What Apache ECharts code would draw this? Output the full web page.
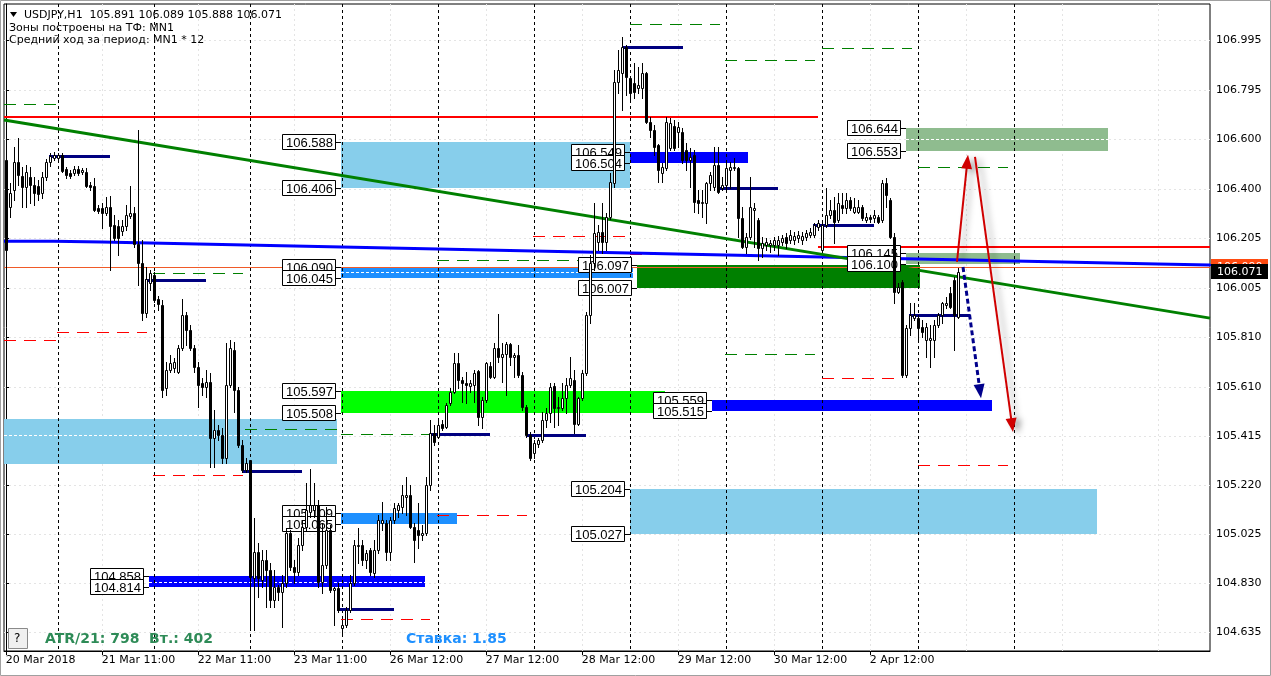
<!DOCTYPE html>
<html><head><meta charset="utf-8">
<script src="https://cdn.jsdelivr.net/npm/echarts@6/dist/echarts.min.js"></script>
<style>html,body{margin:0;padding:0;background:#fff}#c{width:1271px;height:676px}</style>
</head><body><div id="c"></div>
<script>
// ---------- DATA ----------
const opens = [
106.517,106.329,106.397,106.509,106.453,106.409,106.449,106.417,106.413,106.385,
106.449,106.509,106.525,106.525,106.537,106.481,106.465,106.465,106.481,106.469,
106.469,106.417,106.413,106.325,106.325,106.305,106.329,106.257,106.253,106.233,
106.253,106.293,106.305,106.182,106.106,105.906,106.026,106.058,105.962,105.938,
105.607,105.679,105.687,105.671,105.767,105.898,105.838,105.767,105.691,105.627,
105.611,105.631,105.408,105.440,105.420,105.328,105.619,105.759,105.599,105.380,
105.280,105.320,104.850,104.953,104.842,104.921,104.882,104.762,104.814,104.794,
104.830,105.029,104.893,104.874,104.981,105.053,105.113,105.121,105.141,104.834,
104.901,105.041,104.802,104.810,104.650,104.662,104.722,104.830,104.977,104.981,
104.921,104.961,104.870,104.961,105.069,105.069,104.953,105.081,105.121,105.133,
105.173,105.181,105.053,105.041,105.021,105.029,105.220,105.428,105.412,105.464,
105.452,105.547,105.591,105.707,105.639,105.627,105.615,105.619,105.675,105.492,
105.559,105.695,105.651,105.767,105.731,105.743,105.783,105.731,105.739,105.659,
105.531,105.420,105.348,105.384,105.400,105.480,105.508,105.615,105.527,105.527,
105.567,105.619,105.639,105.464,105.567,105.667,105.898,106.106,106.190,106.229,
106.190,106.289,106.425,106.828,106.863,106.967,106.843,106.824,106.804,106.804,
106.863,106.668,106.636,106.576,106.465,106.485,106.564,106.652,106.628,106.628,
106.556,106.517,106.537,106.357,106.345,106.345,106.425,106.409,106.497,106.405,
106.417,106.477,106.485,106.485,106.285,106.170,106.210,106.317,106.277,106.166,
106.178,106.178,106.178,106.178,106.190,106.210,106.198,106.198,106.206,106.198,
106.210,106.218,106.218,106.249,106.158,106.257,106.297,106.317,106.277,106.337,
106.325,106.357,106.309,106.309,106.329,106.277,106.289,106.285,106.289,106.277,
106.425,106.357,106.210,105.990,106.030,105.659,105.846,105.886,105.886,105.850,
105.799,105.799,105.799,105.858,105.898,105.938,105.986,106.038,105.890];
const closes = [
106.158,106.385,106.509,106.457,106.409,106.469,106.417,106.385,106.381,106.449,
106.509,106.533,106.537,106.537,106.473,106.457,106.453,106.481,106.465,106.477,
106.413,106.409,106.317,106.313,106.305,106.329,106.253,106.206,106.206,106.253,
106.297,106.305,106.182,106.106,105.906,106.042,106.066,105.958,105.942,105.599,
105.679,105.707,105.711,105.767,105.898,105.838,105.767,105.691,105.619,105.611,
105.631,105.408,105.440,105.420,105.328,105.619,105.767,105.599,105.380,105.280,
105.308,104.854,104.953,104.850,104.921,104.882,104.762,104.814,104.794,104.830,
105.029,104.893,104.874,104.981,105.053,105.121,105.141,105.141,104.834,104.901,
105.041,104.802,104.810,104.722,104.662,104.722,104.830,104.981,104.981,104.921,
104.949,104.874,104.961,105.081,105.081,104.953,105.081,105.129,105.141,105.181,
105.181,105.053,105.001,105.021,105.029,105.220,105.428,105.392,105.460,105.448,
105.539,105.591,105.707,105.639,105.627,105.619,105.627,105.667,105.492,105.559,
105.707,105.651,105.767,105.731,105.743,105.783,105.731,105.739,105.659,105.531,
105.420,105.328,105.388,105.400,105.480,105.508,105.611,105.527,105.531,105.567,
105.619,105.647,105.464,105.567,105.667,105.898,106.106,106.226,106.229,106.190,
106.289,106.429,106.828,106.875,106.967,106.847,106.784,106.788,106.816,106.863,
106.668,106.636,106.568,106.477,106.489,106.668,106.664,106.564,106.648,106.517,
106.517,106.529,106.349,106.345,106.349,106.425,106.457,106.497,106.389,106.417,
106.485,106.489,106.489,106.285,106.170,106.210,106.329,106.325,106.166,106.186,
106.190,106.186,106.198,106.198,106.206,106.186,106.218,106.214,106.218,106.214,
106.226,106.229,106.257,106.265,106.257,106.297,106.317,106.269,106.345,106.325,
106.357,106.325,106.329,106.329,106.285,106.289,106.281,106.297,106.269,106.425,
106.377,106.210,105.990,106.010,105.659,105.846,105.898,105.898,105.846,105.830,
105.850,105.807,105.858,105.898,105.946,105.946,105.930,105.898,106.071];
const highs = [
106.556,106.425,106.568,106.604,106.489,106.497,106.489,106.449,106.437,106.469,
106.521,106.544,106.548,106.544,106.544,106.489,106.477,106.493,106.493,106.485,
106.485,106.429,106.445,106.337,106.345,106.369,106.373,106.297,106.277,106.277,
106.337,106.413,106.329,106.636,106.198,106.090,106.078,106.070,105.974,105.958,
105.711,105.739,105.727,105.779,105.962,105.910,105.858,105.779,105.711,105.647,
105.679,105.667,105.520,105.460,105.448,105.787,105.799,105.791,105.611,105.400,
105.328,105.320,105.089,104.989,104.961,104.961,104.909,104.882,104.822,104.862,
105.049,105.041,104.921,105.009,105.081,105.228,105.284,105.228,105.161,105.069,
105.133,105.061,104.814,104.830,104.682,104.734,104.862,105.001,105.049,105.001,
104.961,104.969,105.001,105.101,105.153,105.081,105.093,105.149,105.149,105.220,
105.252,105.220,105.069,105.149,105.061,105.252,105.480,105.460,105.480,105.480,
105.547,105.607,105.747,105.747,105.651,105.671,105.639,105.679,105.679,105.571,
105.711,105.711,105.787,105.902,105.787,105.791,105.787,105.747,105.779,105.671,
105.539,105.432,105.400,105.408,105.512,105.527,105.627,105.627,105.571,105.627,
105.647,105.731,105.679,105.571,105.679,105.910,106.138,106.345,106.257,106.345,
106.305,106.465,106.875,106.955,107.007,106.975,106.847,106.903,106.887,106.903,
106.867,106.688,106.656,106.580,106.505,106.688,106.684,106.676,106.668,106.644,
106.584,106.564,106.556,106.397,106.397,106.429,106.469,106.568,106.568,106.449,
106.509,106.509,106.525,106.489,106.329,106.226,106.449,106.345,106.285,106.210,
106.206,106.198,106.210,106.214,106.218,106.226,106.237,106.229,106.233,106.229,
106.237,106.245,106.265,106.277,106.277,106.405,106.357,106.369,106.385,106.385,
106.385,106.369,106.365,106.357,106.337,106.305,106.297,106.317,106.297,106.437,
106.445,106.365,106.226,106.026,106.038,105.858,105.946,105.946,105.898,105.878,
105.866,105.858,105.878,105.906,105.950,105.970,106.010,106.050,106.086];
const lows = [
106.086,106.289,106.357,106.417,106.329,106.329,106.345,106.337,106.357,106.365,
106.437,106.493,106.517,106.509,106.469,106.445,106.445,106.457,106.457,106.461,
106.409,106.397,106.313,106.305,106.245,106.297,106.078,106.198,106.138,106.218,
106.237,106.285,106.170,106.018,105.878,105.890,105.998,105.950,105.918,105.571,
105.579,105.671,105.671,105.667,105.759,105.779,105.759,105.671,105.531,105.579,
105.571,105.292,105.292,105.400,105.308,105.308,105.611,105.512,105.372,105.272,
105.272,104.642,104.642,104.774,104.814,104.734,104.734,104.734,104.762,104.654,
104.814,104.882,104.830,104.862,104.961,105.041,105.093,105.093,104.814,104.790,
104.889,104.794,104.662,104.714,104.622,104.654,104.714,104.822,104.909,104.901,
104.889,104.862,104.854,104.949,105.041,104.921,104.921,105.069,105.093,105.109,
105.101,105.049,104.913,104.969,105.001,105.021,105.200,105.380,105.408,105.440,
105.448,105.539,105.587,105.607,105.551,105.547,105.591,105.551,105.460,105.448,
105.551,105.647,105.647,105.711,105.631,105.579,105.699,105.651,105.651,105.520,
105.412,105.320,105.328,105.372,105.392,105.452,105.472,105.452,105.460,105.520,
105.508,105.611,105.428,105.460,105.559,105.659,105.866,106.078,106.158,106.146,
106.158,106.281,106.409,106.784,106.716,106.776,106.748,106.764,106.784,106.764,
106.664,106.608,106.537,106.429,106.429,106.477,106.556,106.556,106.568,106.505,
106.477,106.409,106.309,106.305,106.289,106.265,106.397,106.397,106.385,106.397,
106.397,106.405,106.477,106.210,106.166,106.146,106.202,106.170,106.118,106.130,
106.158,106.150,106.158,106.138,106.178,106.166,106.186,106.182,106.190,106.182,
106.198,106.210,106.210,106.237,106.150,106.249,106.285,106.186,106.269,106.305,
106.305,106.317,106.305,106.305,106.277,106.269,106.269,106.269,106.265,106.269,
106.329,106.206,105.946,105.986,105.651,105.651,105.818,105.878,105.799,105.811,
105.731,105.691,105.731,105.850,105.866,105.926,105.926,105.759,105.886];

const yTicks = [106.995,106.795,106.600,106.400,106.205,106.005,105.810,105.610,105.415,105.220,105.025,104.830,104.635];
const xTickBars = [0,24,48,72,96,120,144,168,192,216];
const xTickLabels = ['20 Mar 2018','21 Mar 11:00','22 Mar 11:00','23 Mar 11:00','26 Mar 12:00','27 Mar 12:00','28 Mar 12:00','29 Mar 12:00','30 Mar 12:00','2 Apr 12:00'];
const gridBars = [24,48,72,96,120,144,168,192,216,240,264,288];
const daySeparators = [13,37,61,84,108,132,156,180,204,228,252];

const maBars = [-0.45,12,24,36,48,60,72,84,96,108,120,132,144,156,168,180,192,204,216,228,240,252,264,276,288,301.05];
const maValues = [106.193,106.190,106.186,106.182,106.178,106.174,106.170,106.166,106.162,106.158,106.154,106.150,106.146,106.142,106.138,106.134,106.130,106.126,106.122,106.118,106.114,106.110,106.106,106.102,106.098,106.094];
const trendLine = [[-0.45,106.676],[301.05,105.886]];

const skyZones = [[83.8,156.05,106.588,106.406],[-0.45,82.8,105.485,105.305],[156.05,272.8,105.204,105.027]];
const dodgerZones = [[83.8,156.8,106.090,106.045],[83.8,112.8,105.109,105.065]];
const blueZones = [[35.8,104.8,104.858,104.814],[156.05,185.55,106.549,106.504],[176.55,246.55,105.559,105.515]];
const limeZones = [[83.8,164.8,105.597,105.508]];
const darkGreenZones = [[157.8,228.55,106.097,106.007]];
const sageZones = [[225.05,275.55,106.644,106.553],[225.05,253.55,106.145,106.100]];
const zoneMidLines = [[-0.45,82.8,105.420],[35.8,104.8,104.834],[83.8,156.8,106.070],[225.05,275.55,106.600]];

const labelBars = [83.8,83.8,83.8,83.8,83.8,83.8,35.8,35.8,83.8,83.8,156.05,156.05,157.8,157.8,176.55,176.55,156.05,156.05,225.05,225.05,225.05,225.05];
const labelPrices = [106.588,106.406,106.090,106.045,105.597,105.508,104.858,104.814,105.109,105.065,106.549,106.504,106.097,106.007,105.559,105.515,105.204,105.027,106.644,106.553,106.145,106.100];

const navyLevels = [[10.8,26.05,106.533],[34.8,50.05,106.038],[59.3,74.05,105.276],[82.8,97.05,104.726],[106.05,121.05,105.424],[130.05,145.05,105.420],[154.05,169.3,106.967],[178.05,193.05,106.405],[201.8,217.05,106.257],[225.8,241.05,105.898]];
const greenDashLevels = [[-0.45,12.8,106.740],[12.8,35.2,106.686],[36.8,59.3,106.066],[59.8,82.8,105.444],[83.8,106.05,105.424],[107.8,156.05,106.118],[156.05,178.6,107.059],[179.8,202.3,106.915],[204,226.5,106.963],[179.8,202.3,105.743],[228,250.6,106.489]];
const redDashLevels = [[-0.45,12.8,105.799],[12.8,35.2,105.831],[36.8,59.3,105.260],[83.8,106.05,104.686],[107.8,130.3,105.101],[131.8,154.8,106.214],[156.05,178.6,106.142],[204,223.6,105.647],[228,250.6,105.300]];
const redLevels = [[-0.45,203,106.688],[203,301.05,106.170]];
const askLevels = [[-0.45,301.05,106.090]];

const redArrows = [[237.8,106.110,240.55,106.537],[242.3,106.529,251.8,105.432]];
const navyArrows = [[239.3,106.090,243.8,105.567]];
const tagPrices = [106.090,106.071];
const tagColors = ['#ff4a10','#000000'];

// ---------- RENDER ----------
const X_MIN = -0.45, X_MAX = 301.05, Y_MIN = 104.5588, Y_MAX = 107.1385;
const chart = echarts.init(document.getElementById('c'), null, {renderer:'canvas'});

function crisp(v){ return Math.round(v) + 0.5; }
function segSeries(data, color, width, dash, z){
  return {type:'custom', coordinateSystem:'cartesian2d', z:z, clip:true, silent:true, data:data,
    renderItem:function(p, api){
      const a = api.coord([api.value(0), api.value(2)]), b = api.coord([api.value(1), api.value(2)]);
      const y = width % 2 ? crisp(a[1]) : Math.round(a[1]);
      return {type:'line', shape:{x1:Math.round(a[0]), y1:y, x2:Math.round(b[0]), y2:y},
        style:{stroke:color, lineWidth:width, lineDash:dash || null}};
    }};
}
function zoneSeries(data, color, z){
  return {type:'custom', coordinateSystem:'cartesian2d', z:z, clip:true, silent:true, data:data,
    renderItem:function(p, api){
      const a = api.coord([api.value(0), api.value(2)]), b = api.coord([api.value(1), api.value(3)]);
      const x0 = Math.round(a[0]), y0 = Math.round(a[1]);
      return {type:'rect', shape:{x:x0, y:y0, width:Math.round(b[0]) - x0, height:Math.round(b[1]) - y0}, style:{fill:color}};
    }};
}
function vLineSeries(bars, color, dash, z){
  return {type:'custom', coordinateSystem:'cartesian2d', z:z, clip:true, silent:true, data:bars.map(function(b){return [b, Y_MIN];}),
    renderItem:function(p, api){
      const cs = p.coordSys; const x = crisp(api.coord([api.value(0), Y_MIN])[0]);
      return {type:'line', shape:{x1:x, y1:cs.y, x2:x, y2:cs.y + cs.height}, style:{stroke:color, lineWidth:1, lineDash:dash}};
    }};
}
function hGridSeries(vals, color, dash, z){
  return {type:'custom', coordinateSystem:'cartesian2d', z:z, clip:true, silent:true, data:vals.map(function(v){return [X_MIN, v];}),
    renderItem:function(p, api){
      const cs = p.coordSys; const y = crisp(api.coord([X_MIN, api.value(1)])[1]);
      return {type:'line', shape:{x1:cs.x, y1:y, x2:cs.x + cs.width, y2:y}, style:{stroke:color, lineWidth:1, lineDash:dash}};
    }};
}
function arrowSeries(data, color, width, dash, z, shadow){
  return {type:'custom', coordinateSystem:'cartesian2d', z:z, clip:false, silent:true, data:data,
    renderItem:function(p, api){
      const a = api.coord([api.value(0), api.value(1)]), b = api.coord([api.value(2), api.value(3)]);
      const dx = b[0]-a[0], dy = b[1]-a[1], len = Math.hypot(dx, dy), ux = dx/len, uy = dy/len;
      const hl = 14, hw = 5.5;
      const bx = b[0]-ux*hl, by = b[1]-uy*hl;
      const sh = shadow ? {shadowColor:'rgba(0,0,0,0.35)', shadowBlur:6, shadowOffsetX:5, shadowOffsetY:2} : {};
      return {type:'group', children:[
        {type:'line', shape:{x1:a[0], y1:a[1], x2:bx+ux*2, y2:by+uy*2}, style:Object.assign({stroke:color, lineWidth:width, lineDash:dash || null}, sh)},
        {type:'polygon', shape:{points:[[b[0],b[1]],[bx-uy*hw,by+ux*hw],[bx+uy*hw,by-ux*hw]]}, style:Object.assign({fill:color}, sh)}
      ]};
    }};
}
const labelSeries = {type:'custom', coordinateSystem:'cartesian2d', z:5, clip:true, silent:true,
  data: labelBars.map(function(b, i){return [b, labelPrices[i]];}),
  renderItem:function(p, api){
    const pt = api.coord([api.value(0), api.value(1)]);
    const r = Math.round(pt[0]) - 5, y = Math.round(pt[1]);
    const w = 54, h = 16;
    return {type:'group', children:[
      {type:'line', shape:{x1:r, y1:y+0.5, x2:Math.round(pt[0]), y2:y+0.5}, style:{stroke:'#000', lineWidth:1}},
      {type:'rect', shape:{x:r-w+0.5, y:y-h/2+0.5, width:w-1, height:h-1}, style:{fill:'#fff', stroke:'#000', lineWidth:1}},
      {type:'text', style:{text:labelPrices[p.dataIndex].toFixed(3), x:r-w/2+0.5, y:y+1, font:'13px "Liberation Sans", Arial, sans-serif', fill:'#000',
        align:'center', verticalAlign:'middle', textAlign:'center', textVerticalAlign:'middle'}}
    ]};
  }};
const candleSeries = {type:'custom', coordinateSystem:'cartesian2d', z:6, clip:true, silent:true,
  data: opens.map(function(o, i){return [i, o, closes[i], lows[i], highs[i]];}),
  renderItem:function(p, api){
    const i = api.value(0), o = api.value(1), c = api.value(2), l = api.value(3), h = api.value(4);
    const pO = api.coord([i, o]), pC = api.coord([i, c]), pL = api.coord([i, l]), pH = api.coord([i, h]);
    const x = crisp(pO[0]);
    const top = Math.round(Math.min(pO[1], pC[1])), bot = Math.round(Math.max(pO[1], pC[1]));
    return {type:'group', children:[
      {type:'line', shape:{x1:x, y1:Math.round(pH[1]), x2:x, y2:Math.round(pL[1])+1}, style:{stroke:'#000', lineWidth:1}},
      {type:'rect', shape:{x:x-1, y:top+0.5, width:2, height:Math.max(1, bot-top)}, style:{fill: c >= o ? '#fff' : '#000', stroke:'#000', lineWidth:1}}
    ]};
  }};
const tagSeries = {type:'custom', coordinateSystem:'cartesian2d', z:9, clip:false, silent:true,
  data: tagPrices.map(function(v){return [X_MAX, v];}),
  renderItem:function(p, api){
    const cs = p.coordSys; const y = Math.round(api.coord([X_MAX, api.value(1)])[1]);
    const x0 = cs.x + cs.width + 1;
    return {type:'group', children:[
      {type:'rect', shape:{x:x0, y:y-8, width:57, height:15}, style:{fill:tagColors[p.dataIndex]}},
      {type:'text', style:{text:tagPrices[p.dataIndex].toFixed(3), x:x0+6, y:y, font:'11px "DejaVu Sans", sans-serif', fill:'#fff',
        align:'left', verticalAlign:'middle', textAlign:'left', textVerticalAlign:'middle'}}
    ]};
  }};

const txt = function(x, y, s, font, color){
  return {type:'text', x:x, y:y, silent:true, z:20, style:{text:s, font:font, fill:color, align:'left', verticalAlign:'middle', textAlign:'left', textVerticalAlign:'middle'}};
};
const smallFont = '11px "DejaVu Sans", sans-serif';
const boldFont = 'bold 14px "DejaVu Sans", sans-serif';

chart.setOption({
  animation:false,
  backgroundColor:'#ffffff',
  grid:{left:4, right:61, top:4, bottom:25, show:true, borderColor:'#000', borderWidth:1, backgroundColor:'#fff'},
  xAxis:{type:'value', min:X_MIN, max:X_MAX, position:'bottom',
    axisLine:{show:true, lineStyle:{color:'#000', width:1}},
    axisTick:{show:true, customValues:xTickBars, inside:false, length:4, lineStyle:{color:'#000'}},
    axisLabel:{show:true, customValues:xTickBars, align:'left', margin:4, color:'#000', fontFamily:'DejaVu Sans', fontSize:11,
      formatter:function(v){ const k = xTickBars.indexOf(Math.round(v)); return k >= 0 ? xTickLabels[k] : ''; }},
    splitLine:{show:false}},
  yAxis:{type:'value', min:Y_MIN, max:Y_MAX, position:'right',
    axisLine:{show:true, lineStyle:{color:'#000', width:1}},
    axisTick:{show:true, customValues:yTicks, inside:false, length:4, lineStyle:{color:'#000'}},
    axisLabel:{show:true, customValues:yTicks, margin:6, color:'#000', fontFamily:'DejaVu Sans', fontSize:11,
      formatter:function(v){ return v.toFixed(3); }},
    splitLine:{show:false}},
  graphic:[
    {type:'rect', silent:true, z:0, shape:{x:0.5, y:0.5, width:1270, height:675}, style:{fill:null, stroke:'#a0a0a0', lineWidth:1}},
    {type:'polygon', silent:true, z:20, shape:{points:[[10,12],[17,12],[13.5,17]]}, style:{fill:'#000'}},
    txt(24, 15, 'USDJPY,H1  105.891 106.089 105.888 106.071', smallFont, '#000'),
    txt(9, 28, 'Зоны построены на ТФ: MN1', smallFont, '#000'),
    txt(9, 40, 'Средний ход за период: MN1 * 12', smallFont, '#000'),
    {type:'rect', silent:true, z:20, shape:{x:8.5, y:628.5, width:19, height:20}, style:{fill:'#f0f0f0', stroke:'#8a8a8a', lineWidth:1}},
    txt(14, 639, '?', '12px "DejaVu Sans", sans-serif', '#000'),
    txt(45, 639, 'ATR/21: 798  Вт.: 402', boldFont, '#2e8b57'),
    txt(406, 639, 'Ставка: 1.85', boldFont, '#1e90ff')
  ],
  series:[
    hGridSeries(yTicks, '#e4e4e4', [2,3], 1),
    vLineSeries(gridBars, '#e4e4e4', [2,3], 1),
    zoneSeries(skyZones, '#87ceeb', 2),
    zoneSeries(limeZones, '#00ff00', 2),
    zoneSeries(darkGreenZones, '#008000', 2),
    zoneSeries(sageZones, '#8fbc8f', 2),
    zoneSeries(dodgerZones, '#1e90ff', 2),
    zoneSeries(blueZones, '#0000ff', 2),
    segSeries(zoneMidLines, '#ffffff', 1, [3,2], 3),
    segSeries(askLevels, '#f05a28', 1, null, 3),
    vLineSeries(daySeparators.map(function(b){return b - 0.05;}), '#000', [3,3], 3),
    segSeries(greenDashLevels, '#008000', 1, [12,8], 4),
    segSeries(redDashLevels, '#ff0000', 1, [12,8], 4),
    segSeries(redLevels, '#ff0000', 2, null, 4),
    segSeries(navyLevels, '#000080', 3, null, 4),
    {type:'line', z:4, silent:true, symbol:'none', step:'end', clip:true,
      data: maBars.map(function(b, i){return [b, maValues[i]];}), lineStyle:{color:'#0000ff', width:3}},
    {type:'line', z:4, silent:true, symbol:'none', clip:true, data: trendLine, lineStyle:{color:'#008000', width:3}},
    labelSeries,
    candleSeries,
    arrowSeries(redArrows, '#d00000', 2, null, 7, true),
    arrowSeries(navyArrows, '#00008b', 3, [5,3], 7, false),
    tagSeries
  ]
});
</script>
</body></html>
